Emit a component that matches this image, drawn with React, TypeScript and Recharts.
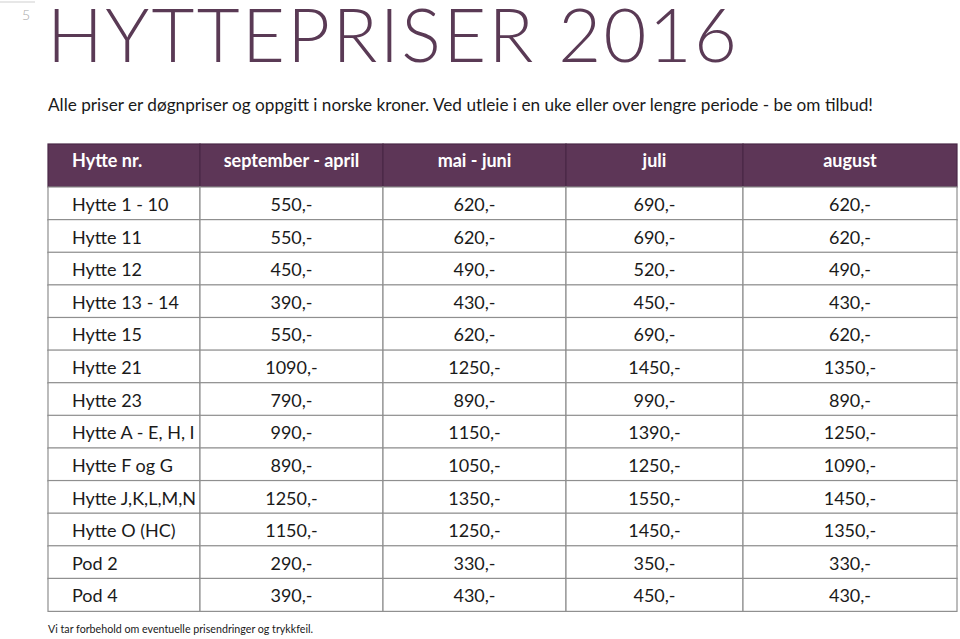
import { Bar, BarChart, XAxis, YAxis } from "recharts";

const cabins = [
  "Hytte 1 - 10",
  "Hytte 11",
  "Hytte 12",
  "Hytte 13 - 14",
  "Hytte 15",
  "Hytte 21",
  "Hytte 23",
  "Hytte A - E, H, I",
  "Hytte F og G",
  "Hytte J,K,L,M,N",
  "Hytte O (HC)",
  "Pod 2",
  "Pod 4",
];
const headers = ["Hytte nr.", "september - april", "mai - juni", "juli", "august"];
const sepApril = [550, 550, 450, 390, 550, 1090, 790, 990, 890, 1250, 1150, 290, 390];
const maiJuni = [620, 620, 490, 430, 620, 1250, 890, 1150, 1050, 1350, 1250, 330, 430];
const juli = [690, 690, 520, 450, 690, 1450, 990, 1390, 1250, 1550, 1450, 350, 450];
const august = [620, 620, 490, 430, 620, 1350, 890, 1250, 1090, 1450, 1350, 330, 430];

// column widths in px (layout only)
const colWidths = [152, 183, 183, 177, 214];
const tableWidth = colWidths.reduce((a, b) => a + b, 0);

const PURPLE = "#5d3657";
const FONT = "Lato, 'Open Sans', sans-serif";

const widthFields = Object.fromEntries(colWidths.map((w, i) => [`w${i}`, w]));

const headerData = [
  { name: "header", ...widthFields, t0: headers[0], t1: headers[1], t2: headers[2], t3: headers[3], t4: headers[4] },
];

const bodyData = cabins.map((c, i) => ({
  name: c,
  ...widthFields,
  t0: c,
  t1: `${sepApril[i]},-`,
  t2: `${maiJuni[i]},-`,
  t3: `${juli[i]},-`,
  t4: `${august[i]},-`,
}));

function makeCell(col: number, header: boolean) {
  return (props: any) => {
    const { x, y, width, height, payload } = props;
    const text = payload[`t${col}`];
    const left = col === 0;
    return (
      <g>
        <rect
          x={x}
          y={y}
          width={width}
          height={height}
          fill={header ? PURPLE : "#fff"}
          stroke={header ? "#4a2846" : "#8f8f8f"}
          strokeWidth={1.2}
        />
        <text
          x={left ? x + 24 : x + width / 2}
          y={header ? y + 23 : y + height / 2 + 7.5}
          textAnchor={left ? "start" : "middle"}
          fontFamily={FONT}
          fontSize={18}
          fontWeight={header ? 700 : 400}
          fill={header ? "#fff" : "#1a1a1a"}
        >
          {text}
        </text>
      </g>
    );
  };
}

function Table({ data, height, header }: { data: any[]; height: number; header: boolean }) {
  return (
    <BarChart
      layout="vertical"
      width={tableWidth + 2}
      height={height + 2}
      data={data}
      margin={{ top: 1, right: 1, bottom: 1, left: 1 }}
      barCategoryGap={0}
    >
      <XAxis type="number" hide domain={[0, tableWidth]} />
      <YAxis type="category" dataKey="name" hide />
      {colWidths.map((_, i) => (
        <Bar
          key={i}
          dataKey={`w${i}`}
          stackId="t"
          isAnimationActive={false}
          shape={makeCell(i, header)}
        />
      ))}
    </BarChart>
  );
}

export default function App() {
  return (
    <div style={{ position: "relative", width: 960, height: 639, background: "#fff", overflow: "hidden" }}>
      <style>{`body{margin:0}`}</style>
      <svg width={960} height={639} style={{ position: "absolute", left: 0, top: 0 }}>
        <line x1={0} y1={2} x2={35} y2={2} stroke="#cfcfcf" strokeWidth={1} />
        <text x={22} y={20} fontFamily={FONT} fontWeight={300} fontSize={14} fill="#a8a8a8">
          5
        </text>
        <text
          x={47}
          y={62}
          fontFamily={FONT}
          fontWeight={300}
          fontSize={74}
          fill="#5a3a55"
          textLength={690}
          lengthAdjust="spacing"
        >
          HYTTEPRISER 2016
        </text>
        <text x={48} y={111} fontFamily={FONT} fontSize={17} fill="#1a1a1a" textLength={825} lengthAdjust="spacingAndGlyphs">
          Alle priser er døgnpriser og oppgitt i norske kroner. Ved utleie i en uke eller over lengre periode - be om tilbud!
        </text>
        <text x={48} y={633} fontFamily={FONT} fontSize={11.5} fill="#1a1a1a" textLength={265} lengthAdjust="spacingAndGlyphs">
          Vi tar forbehold om eventuelle prisendringer og trykkfeil.
        </text>
      </svg>
      <div style={{ position: "absolute", left: 47, top: 143 }}>
        <Table data={headerData} height={43} header />
      </div>
      <div style={{ position: "absolute", left: 47, top: 186 }}>
        <Table data={bodyData} height={424} header={false} />
      </div>
    </div>
  );
}
